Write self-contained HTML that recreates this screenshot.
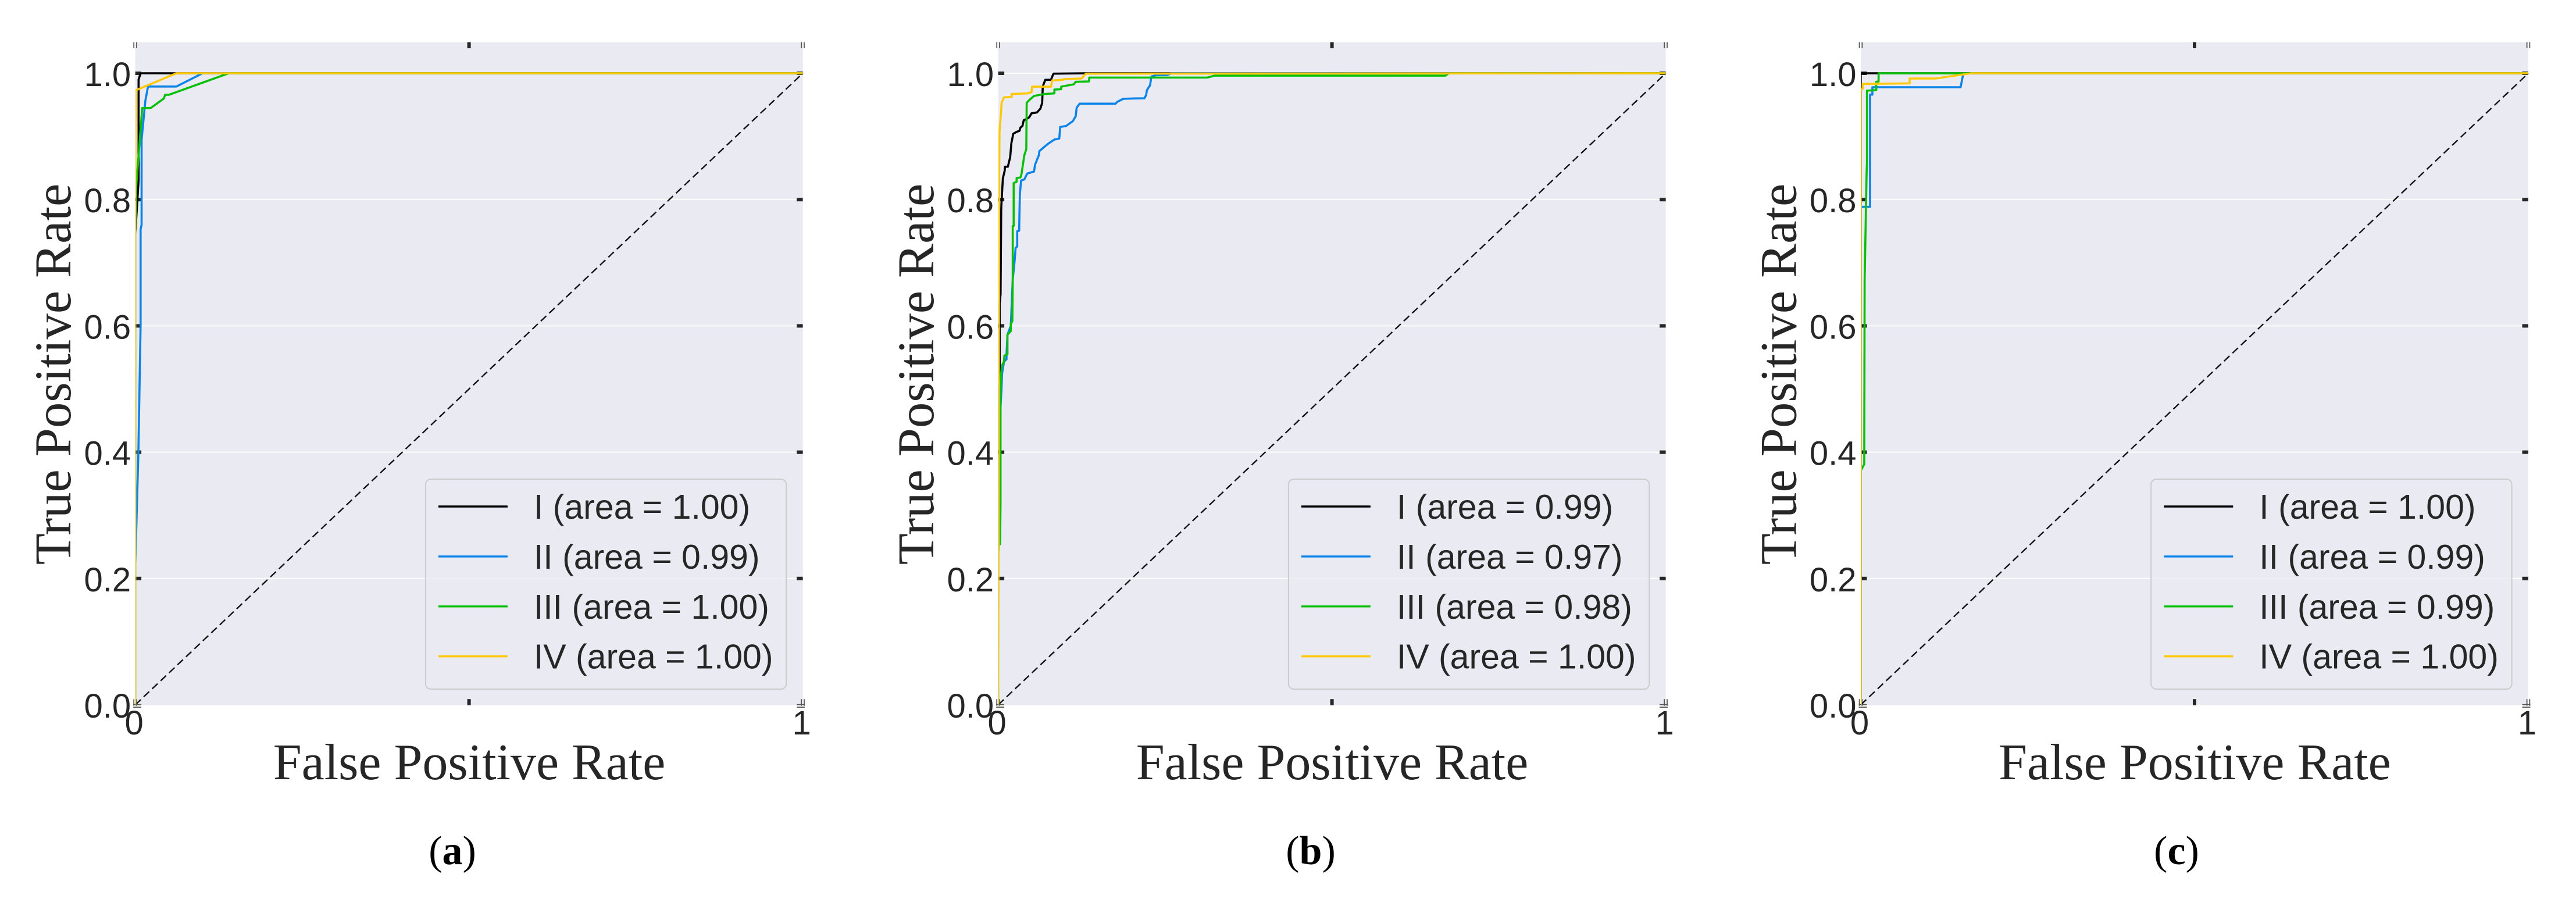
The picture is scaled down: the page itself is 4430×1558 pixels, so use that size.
<!DOCTYPE html>
<html lang="en">
<head>
<meta charset="utf-8">
<title>ROC curves</title>
<style>
html,body{margin:0;padding:0;background:#fff;width:4430px;height:1558px;overflow:hidden}
svg{display:block}
.sans{font-family:"Liberation Sans",Arial,sans-serif;fill:#262626}
.serif{font-family:"Liberation Serif","Times New Roman",serif;fill:#262626}
</style>
</head>
<body>
<svg id="figure" xmlns="http://www.w3.org/2000/svg" width="4430" height="1558" viewBox="0 0 4430 1558"></svg>
<script>
// ---- chart data ----
const panelLetters = ["a", "b", "c"];
const seriesNames = ["I", "II", "III", "IV"];
const seriesColors = ["#000000", "#0a84e8", "#08c008", "#ffc808"];
const yTickValues = [0, 0.2, 0.4, 0.6, 0.8, 1];
const yTickLabels = ["0.0", "0.2", "0.4", "0.6", "0.8", "1.0"];
const xTickValues = [0, 1];
const xTickLabels = ["0", "1"];
const xMinorTick = [0.5];
const diagonalValues = [0, 1];

const aucA = [1.00, 0.99, 1.00, 1.00];
const aucB = [0.99, 0.97, 0.98, 1.00];
const aucC = [1.00, 0.99, 0.99, 1.00];

// Panel (a)
const a1Fpr = [0, 0, 0.005, 0.005, 0.008, 1];
const a1Tpr = [0, 0.745, 0.83, 0.99, 1, 1];
const a2Fpr = [0, 0, 0.0047, 0.008, 0.008, 0.0095, 0.0095, 0.0152, 0.0191, 0.0616, 0.1008, 1];
const a2Tpr = [0, 0.22, 0.4, 0.6, 0.753, 0.76, 0.895, 0.957, 0.979, 0.979, 1, 1];
const a3Fpr = [0, 0, 0.0012, 0.0105, 0.0233, 0.0428, 0.0448, 0.0506, 0.14, 1];
const a3Tpr = [0, 0.745, 0.818, 0.945, 0.945, 0.96, 0.966, 0.966, 1, 1];
const a4Fpr = [0, 0, 0.0006, 0.0616, 1];
const a4Tpr = [0, 0.8, 0.973, 1, 1];

// Panel (b)
const b1Fpr = [0, 0, 0.0022, 0.0022, 0.0036, 0.0045, 0.0047, 0.007, 0.0098, 0.0102, 0.0145, 0.018, 0.0197, 0.0226, 0.0276, 0.0319, 0.0334, 0.0363, 0.0383, 0.0421, 0.0465, 0.0499, 0.0581, 0.0633, 0.0659, 0.0668, 0.0706, 0.079, 0.0828, 0.1307, 1];
const b1Tpr = [0, 0.5, 0.506, 0.636, 0.65, 0.782, 0.79, 0.8336, 0.846, 0.852, 0.852, 0.8674, 0.8889, 0.9042, 0.9073, 0.9088, 0.9141, 0.9165, 0.9257, 0.9273, 0.9303, 0.9365, 0.938, 0.9441, 0.9533, 0.9794, 0.9896, 0.9896, 0.9994, 1, 1];
const b2Fpr = [0, 0, 0.0022, 0.0024, 0.0049, 0.0058, 0.0087, 0.0125, 0.0125, 0.0139, 0.0189, 0.0218, 0.0247, 0.0261, 0.0285, 0.0285, 0.0314, 0.032, 0.0325, 0.0343, 0.0392, 0.0436, 0.0537, 0.0552, 0.061, 0.0616, 0.0682, 0.0755, 0.0842, 0.0915, 0.0929, 0.1016, 0.1118, 0.1161, 0.1176, 0.122, 0.1757, 0.1786, 0.1873, 0.2033, 0.219, 0.2217, 0.2228, 0.2275, 0.2295, 0.2372, 0.2528, 0.26, 1];
const b2Tpr = [0, 0.22, 0.3, 0.45, 0.5, 0.524, 0.5433, 0.5472, 0.555, 0.586, 0.6, 0.6732, 0.7041, 0.7236, 0.7255, 0.7499, 0.7507, 0.7856, 0.8088, 0.8301, 0.832, 0.8413, 0.8444, 0.8551, 0.8705, 0.8766, 0.8827, 0.8889, 0.895, 0.8966, 0.915, 0.9165, 0.9242, 0.9319, 0.9457, 0.9518, 0.9518, 0.9549, 0.9595, 0.9601, 0.9604, 0.9656, 0.9733, 0.981, 0.9948, 0.9972, 0.9972, 1, 1];
const b3Fpr = [0, 0, 0.0009, 0.0029, 0.0035, 0.0035, 0.0044, 0.0058, 0.0087, 0.0093, 0.0139, 0.0139, 0.0189, 0.0189, 0.0212, 0.0218, 0.0218, 0.0232, 0.0232, 0.0276, 0.0276, 0.0334, 0.0348, 0.0392, 0.0421, 0.0427, 0.047, 0.0537, 0.0697, 0.0842, 0.0842, 0.0944, 0.0944, 0.1132, 0.1161, 0.1359, 0.1365, 0.3132, 0.3245, 0.67, 0.675, 1];
const b3Tpr = [0, 0.22, 0.2527, 0.2546, 0.3205, 0.4988, 0.524, 0.5375, 0.5433, 0.553, 0.555, 0.586, 0.5918, 0.6034, 0.6073, 0.6732, 0.7584, 0.7584, 0.8262, 0.8282, 0.834, 0.8351, 0.8398, 0.8705, 0.8797, 0.9533, 0.958, 0.9641, 0.9672, 0.9681, 0.9742, 0.9748, 0.9788, 0.9825, 0.9865, 0.9871, 0.9932, 0.9932, 0.9963, 0.9963, 1, 1];
const b4Fpr = [0, 0.0005, 0.001, 0.0015, 0.0015, 0.002, 0.0035, 0.0052, 0.0087, 0.0203, 0.0203, 0.0436, 0.0499, 0.0508, 0.0793, 0.0807, 0.0973, 0.0981, 0.1249, 0.1312, 1];
const b4Tpr = [0, 0.22, 0.6, 0.8, 0.8398, 0.9073, 0.9273, 0.9533, 0.9619, 0.9626, 0.9672, 0.9681, 0.9702, 0.9788, 0.9788, 0.9886, 0.9896, 0.9908, 0.9917, 0.9994, 1];

// Panel (c)
const c1Fpr = [0, 0, 0.03, 1];
const c1Tpr = [0, 1, 1, 1];
const c2Fpr = [0, 0, 0.0139, 0.0139, 0.0174, 0.0174, 0.1495, 0.1533, 0.158, 1];
const c2Tpr = [0, 0.7885, 0.7885, 0.9662, 0.9662, 0.9779, 0.9779, 0.9979, 1, 1];
const c3Fpr = [0, 0, 0.0052, 0.0058, 0.0087, 0.0093, 0.0093, 0.0232, 0.0232, 0.0267, 0.0267, 1];
const c3Tpr = [0, 0.371, 0.381, 0.672, 0.84, 0.858, 0.9724, 0.9733, 0.9865, 0.9871, 1, 1];
const c4Fpr = [0, 0, 0.0029, 0.0029, 0.0732, 0.0732, 0.1118, 0.1655, 1];
const c4Tpr = [0, 0.9742, 0.9754, 0.9831, 0.984, 0.9917, 0.9917, 1, 1];

const panelFpr = [[a1Fpr, a2Fpr, a3Fpr, a4Fpr], [b1Fpr, b2Fpr, b3Fpr, b4Fpr], [c1Fpr, c2Fpr, c3Fpr, c4Fpr]];
const panelTpr = [[a1Tpr, a2Tpr, a3Tpr, a4Tpr], [b1Tpr, b2Tpr, b3Tpr, b4Tpr], [c1Tpr, c2Tpr, c3Tpr, c4Tpr]];
const panelAuc = [aucA, aucB, aucC];

// ---- layout ----
const plotLeft = [232.6, 1716.6, 3200];
const captionCenter = [778, 2254, 3743];
const plotWidth = 1148;
const plotTop = 72.5;
const plotBottom = 1212.7;
const yZero = 1212;
const yUnit = 1086;
const NS = "http://www.w3.org/2000/svg";
const svg = document.getElementById("figure");

function make(parent, tag, attrs, text) {
  const el = document.createElementNS(NS, tag);
  for (const k in attrs) el.setAttribute(k, attrs[k]);
  if (text !== undefined) el.textContent = text;
  parent.appendChild(el);
  return el;
}

panelLetters.forEach(function (letter, p) {
  const left = plotLeft[p];
  const right = left + plotWidth;
  const xScale = function (v) { return left + v * plotWidth; };
  const yScale = function (v) { return yZero - v * yUnit; };

  const group = make(svg, "g", {});
  
  

  const bg = make(group, "rect", { x: left, y: plotTop, width: plotWidth, height: plotBottom - plotTop, fill: "#eaeaf2" });
  
  

  const clip = make(group, "clipPath", { id: "clip-" + letter });
  make(clip, "rect", { x: left + 0.6, y: plotTop, width: plotWidth - 0.6, height: plotBottom - plotTop });

  // grid lines
  yTickValues.forEach(function (v, i) {
    if (v === 0) return;
    const grid = make(group, "line", { x1: left, x2: right, y1: yScale(v), y2: yScale(v), stroke: "#ffffff", "stroke-width": 2, "stroke-opacity": 0.9 });
    
    
  });

  // y ticks on both sides
  yTickValues.forEach(function (v, i) {
    if (v === 0) return;
    const tickL = make(group, "line", { x1: left, x2: left + 10.5, y1: yScale(v), y2: yScale(v), stroke: "#262626", "stroke-width": 6 });
    
    
    const tickR = make(group, "line", { x1: right - 10.5, x2: right, y1: yScale(v), y2: yScale(v), stroke: "#262626", "stroke-width": 6 });
    
    
  });

  // middle x ticks top and bottom
  xMinorTick.forEach(function (v) {
    const tickB = make(group, "line", { x1: xScale(v), x2: xScale(v), y1: plotBottom - 10.5, y2: plotBottom, stroke: "#262626", "stroke-width": 6 });
    
    
    const tickT = make(group, "line", { x1: xScale(v), x2: xScale(v), y1: plotTop, y2: plotTop + 10.5, stroke: "#262626", "stroke-width": 6 });
    
    
  });

  // thin double corner ticks
  xTickValues.forEach(function (v) {
    const cx = xScale(v);
    [-2.4, 2.4].forEach(function (off) {
      const top = make(group, "line", { x1: cx + off, x2: cx + off, y1: plotTop, y2: plotTop + 10.5, stroke: "#555555", "stroke-width": 1.8 });
      
      
      const bottom = make(group, "line", { x1: cx + off, x2: cx + off, y1: plotBottom - 10.5, y2: plotBottom + 1, stroke: "#555555", "stroke-width": 1.8 });
      
      
    });
    const x1 = v === 0 ? cx - 3.5 : cx - 10.5;
    const x2 = v === 0 ? cx + 10.5 : cx + 3.5;
    [-1, 3.4].forEach(function (off) {
      const h = make(group, "line", { x1: x1, x2: x2, y1: plotBottom + off, y2: plotBottom + off, stroke: "#555555", "stroke-width": 1.8 });
      
      
    });
  });

  // diagonal chance line
  const diag = make(group, "line", {
    x1: xScale(diagonalValues[0]), y1: yScale(diagonalValues[0]),
    x2: xScale(diagonalValues[1]), y2: yScale(diagonalValues[1]),
    stroke: "#111111", "stroke-width": 2.4, "stroke-dasharray": "13 7"
  });
  
  

  // ROC series
  seriesNames.forEach(function (name, s) {
    const fpr = panelFpr[p][s];
    const tpr = panelTpr[p][s];
    const pts = fpr.map(function (f, i) { return xScale(f).toFixed(2) + "," + yScale(tpr[i]).toFixed(2); }).join(" ");
    const line = make(group, "polyline", {
      points: pts, fill: "none", stroke: seriesColors[s], "stroke-width": 3.6,
      "stroke-linejoin": "round", "clip-path": "url(#clip-" + letter + ")"
    });
    
    
  });

  // y tick labels
  yTickValues.forEach(function (v, i) {
    const label = make(group, "text", { x: left - 7.5, y: yScale(v) + 22, "text-anchor": "end", "font-size": 58, class: "sans" }, yTickLabels[i]);
    
    
  });

  // x tick labels
  xTickValues.forEach(function (v, i) {
    const label = make(group, "text", { x: xScale(v) - 2, y: 1263, "text-anchor": "middle", "font-size": 58, class: "sans" }, xTickLabels[i]);
    
    
  });

  // axis titles
  const xTitle = make(group, "text", { x: left + 574.4, y: 1340, "text-anchor": "middle", "font-size": 88, class: "serif" }, "False Positive Rate");
  
  
  const yTitle = make(group, "text", { x: 0, y: 0, transform: "translate(" + (left - 111.5) + " 643.5) rotate(-90)", "text-anchor": "middle", "font-size": 88.5, class: "serif" }, "True Positive Rate");
  
  

  // caption
  const caption = make(group, "text", { x: captionCenter[p], y: 1486, "text-anchor": "middle", "font-size": 70, class: "serif", style: "fill:#000" });
  
  
  make(caption, "tspan", {}, "(");
  make(caption, "tspan", { "font-weight": "bold" }, letter);
  make(caption, "tspan", {}, ")");

  // legend
  const legendLeft = right - 28.4 - 620.3;
  const legend = make(group, "g", {});
  
  
  const frame = make(legend, "rect", { x: legendLeft, y: 824, width: 620.3, height: 361, rx: 9, ry: 9, fill: "#eaeaf2", "fill-opacity": 0.8, stroke: "#cccccc", "stroke-width": 2 });
  
  
  seriesNames.forEach(function (name, s) {
    const rowY = 871 + s * 85.9;
    const swatch = make(legend, "line", { x1: legendLeft + 22, x2: legendLeft + 141, y1: rowY, y2: rowY, stroke: seriesColors[s], "stroke-width": 3.4 });
    
    
    const entry = make(legend, "text", { x: legendLeft + 186, y: rowY + 21, "font-size": 59, class: "sans" }, name + " (area = " + panelAuc[p][s].toFixed(2) + ")");
    
    
  });
});
</script>
</body>
</html>
